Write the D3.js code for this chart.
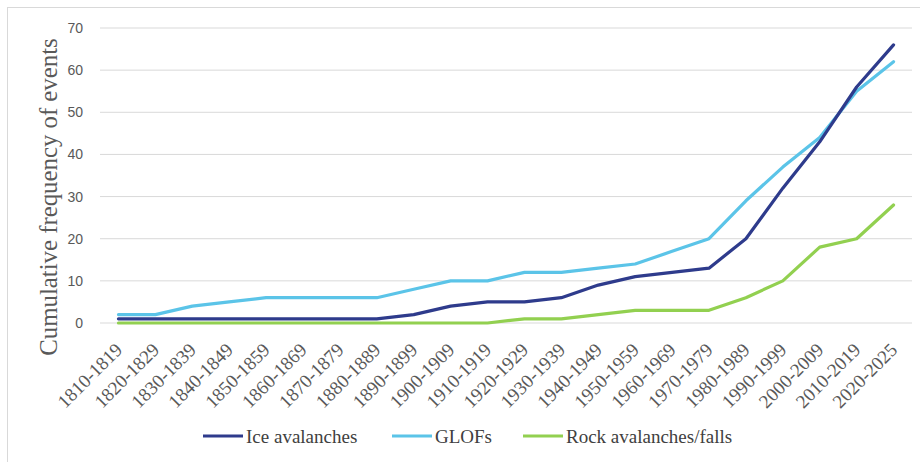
<!DOCTYPE html>
<html>
<head>
<meta charset="utf-8">
<script src="https://cdn.jsdelivr.net/npm/d3@7/dist/d3.min.js"></script>
<style>
  html, body { margin: 0; padding: 0; background: #fff; }
  svg { display: block; }
  .serif { font-family: "Liberation Serif", "Times New Roman", serif; }
  .sans { font-family: "Liberation Sans", Arial, sans-serif; }
</style>
</head>
<body>
<svg id="chart" width="920" height="462"></svg>
<script>
const categories = ["1810-1819","1820-1829","1830-1839","1840-1849","1850-1859","1860-1869","1870-1879","1880-1889","1890-1899","1900-1909","1910-1919","1920-1929","1930-1939","1940-1949","1950-1959","1960-1969","1970-1979","1980-1989","1990-1999","2000-2009","2010-2019","2020-2025"];
const iceAvalanches = [1,1,1,1,1,1,1,1,2,4,5,5,6,9,11,12,13,20,32,43,56,66];
const glofs = [2,2,4,5,6,6,6,6,8,10,10,12,12,13,14,17,20,29,37,44,55,62];
const rockAvalanches = [0,0,0,0,0,0,0,0,0,0,0,1,1,2,3,3,3,6,10,18,20,28];
const yTicks = [0,10,20,30,40,50,60,70];
const seriesNames = ["Ice avalanches","GLOFs","Rock avalanches/falls"];
const seriesColors = ["#2E3B8C","#5BC4E8","#92D050"];

const svg = d3.select("#chart");
const margin = {left: 100, right: 8};
const W = 920;

// outer border (extends past right and bottom edges)
svg.append("rect").attr("x", 7.5).attr("y", 7.5).attr("width", 920).attr("height", 470)
  .attr("fill", "none").attr("stroke", "#d9d9d9").attr("stroke-width", 1);

const x = d3.scaleBand().domain(categories).range([margin.left, W - margin.right]);
const y = d3.scaleLinear().domain([0, 70]).range([323, 28]);

// gridlines
svg.append("g").selectAll("line").data(yTicks).join("line")
  .attr("x1", margin.left).attr("x2", W - margin.right)
  .attr("y1", d => y(d)).attr("y2", d => y(d))
  .attr("stroke", "#d9d9d9").attr("stroke-width", 1);

// y axis labels
const yAxis = d3.axisLeft(y).tickValues(yTicks).tickSize(0).tickPadding(0);
const gy = svg.append("g").attr("transform", `translate(83,0)`).call(yAxis);
gy.select(".domain").remove();
gy.selectAll("text").attr("class", "sans").attr("font-family", null)
  .attr("font-size", 14).attr("fill", "#595959");

// x axis labels
const xAxis = d3.axisBottom(x).tickSize(0).tickPadding(0);
const gx = svg.append("g").attr("transform", `translate(0,${y(0)})`).call(xAxis);
gx.select(".domain").remove();
gx.selectAll("text")
  .attr("class", "serif").attr("font-family", null)
  .attr("font-size", 19).attr("fill", "#595959")
  .attr("text-anchor", "end")
  .attr("dy", null).attr("y", 0)
  .attr("transform", "translate(5,28) rotate(-45)");

// y title
svg.append("text")
  .attr("class", "serif")
  .attr("transform", "translate(57,197) rotate(-90)")
  .attr("text-anchor", "middle")
  .attr("font-size", 24.8).attr("fill", "#595959")
  .text("Cumulative frequency of events");

// lines
const allSeries = [iceAvalanches, glofs, rockAvalanches];
const line = d3.line()
  .x((d, i) => x(categories[i]) + x.bandwidth() / 2)
  .y(d => y(d));
[2, 1, 0].forEach(k => {
  svg.append("path").datum(allSeries[k])
    .attr("d", line).attr("fill", "none")
    .attr("stroke", seriesColors[k]).attr("stroke-width", 3.2)
    .attr("stroke-linejoin", "round").attr("stroke-linecap", "round");
});

// legend
const legendX = [203, 392, 523];
const lg = svg.append("g");
seriesNames.forEach((name, k) => {
  const g = lg.append("g").attr("transform", `translate(${legendX[k]},436)`);
  g.append("line").attr("x1", 0).attr("x2", 40).attr("y1", 0).attr("y2", 0)
    .attr("stroke", seriesColors[k]).attr("stroke-width", 3.2);
  g.append("text").attr("class", "serif").attr("x", 43).attr("y", 7)
    .attr("font-size", 19).attr("fill", "#404040").text(name);
});
</script>
</body>
</html>
